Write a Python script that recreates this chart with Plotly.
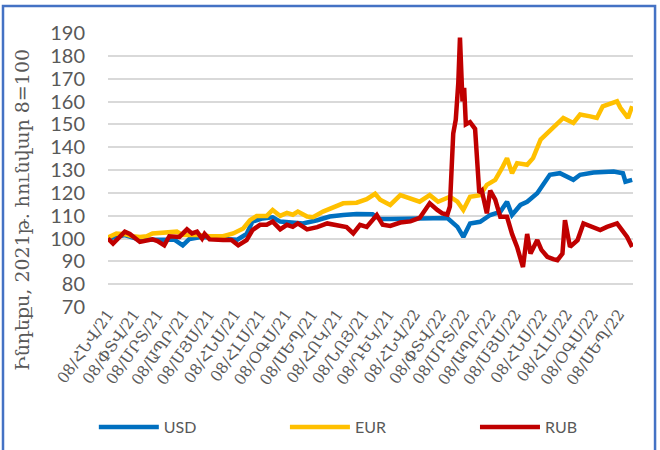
import plotly.graph_objects as go

# ---- data ----
usd_dates = ["2021-01-08","2021-01-14","2021-01-28","2021-02-15","2021-03-05","2021-03-16","2021-03-28",
             "2021-04-07","2021-04-15","2021-04-27","2021-05-09","2021-05-25","2021-06-11","2021-06-22",
             "2021-06-29","2021-07-11","2021-07-23","2021-08-01","2021-08-13","2021-08-28","2021-09-14",
             "2021-09-29","2021-10-15","2021-10-31","2021-11-19","2021-11-28","2021-12-10","2022-01-03",
             "2022-01-26","2022-02-16","2022-02-28","2022-03-07","2022-03-15","2022-03-27","2022-04-08",
             "2022-04-20","2022-04-28","2022-05-04","2022-05-14","2022-05-22","2022-06-03","2022-06-10",
             "2022-06-18","2022-06-30","2022-07-16","2022-07-24","2022-08-09","2022-09-02","2022-09-13",
             "2022-09-16","2022-09-24"]
usd_vals = [100, 100.5, 101.5, 99.5, 99.5, 99.5, 99.5,
            97, 99.8, 100.5, 100.5, 99.8, 99.5, 102,
            107.4, 108.8, 109.3, 107.4, 107, 106.6, 108,
            109.6, 110.3, 110.7, 110.6, 108.5, 108.5, 108.8,
            109.2, 109, 105.1, 100.7, 106.6, 107.3, 110.3,
            111.7, 116.1, 110.3, 114.7, 116.1, 119.8, 123.5,
            127.9, 128.6, 125.7, 127.9, 128.9, 129.3, 128.6,
            124.9, 125.7]

eur_dates = ["2021-01-08","2021-01-18","2021-01-28","2021-02-06","2021-02-15","2021-02-23","2021-03-02",
             "2021-03-14","2021-03-31","2021-04-07","2021-04-24","2021-05-09","2021-05-25","2021-06-06",
             "2021-06-18","2021-06-26","2021-07-04","2021-07-16","2021-07-23","2021-08-01","2021-08-09",
             "2021-08-16","2021-08-22","2021-09-02","2021-09-09","2021-09-21","2021-10-03","2021-10-15",
             "2021-10-31","2021-11-12","2021-11-22","2021-11-28","2021-12-10","2021-12-22","2022-01-14",
             "2022-01-26","2022-02-05","2022-02-19","2022-02-28","2022-03-07","2022-03-15","2022-03-27",
             "2022-04-04","2022-04-14","2022-04-23","2022-04-28","2022-05-04","2022-05-10","2022-05-22",
             "2022-05-29","2022-06-07","2022-06-15","2022-06-22","2022-07-04","2022-07-16","2022-07-24",
             "2022-08-05","2022-08-13","2022-08-20","2022-09-06","2022-09-10","2022-09-19","2022-09-24"]
eur_vals = [100.4, 102.2, 101.9, 101, 100.7, 101, 102.2,
            102.5, 103, 101.5, 101.5, 101, 101, 102.2,
            104.4, 108, 109.9, 109.9, 112.5, 109.9, 111.2,
            110.4, 111.8, 109.6, 109.3, 111.8, 113.7, 115.4,
            115.7, 117.2, 119.6, 117, 114.7, 119, 116.1,
            119, 116.1, 118.3, 116.1, 112.5, 118.3, 119,
            123.5, 125.7, 131.5, 135.2, 128.6, 133, 132.3,
            135.2, 143.3, 146.2, 149.1, 152.8, 150.6, 154.3,
            153.5, 152.8, 157.9, 160.1, 157.2, 152.8, 157.9]

rub_dates = ["2021-01-08","2021-01-14","2021-01-28","2021-02-03","2021-02-15","2021-02-23","2021-03-02",
             "2021-03-08","2021-03-16","2021-03-22","2021-04-03","2021-04-12","2021-04-18","2021-04-24",
             "2021-04-30","2021-05-03","2021-05-09","2021-05-25","2021-06-04","2021-06-12","2021-06-22",
             "2021-06-29","2021-07-08","2021-07-16","2021-07-23","2021-08-01","2021-08-09","2021-08-16",
             "2021-08-22","2021-09-02","2021-09-14","2021-09-26","2021-10-07","2021-10-19","2021-10-27",
             "2021-11-04","2021-11-12","2021-11-24","2021-12-01","2021-12-10","2021-12-22","2022-01-03",
             "2022-01-14","2022-01-23","2022-01-26","2022-02-04","2022-02-10","2022-02-16","2022-02-19",
             "2022-02-23","2022-02-26","2022-03-01","2022-03-03","2022-03-06","2022-03-08","2022-03-10",
             "2022-03-15","2022-03-21","2022-03-23","2022-03-26","2022-03-29","2022-04-04","2022-04-08",
             "2022-04-14","2022-04-20","2022-04-28","2022-05-04","2022-05-10","2022-05-17","2022-05-22",
             "2022-05-26","2022-06-03","2022-06-08","2022-06-15","2022-06-22","2022-06-27","2022-07-03",
             "2022-07-06","2022-07-12","2022-07-21","2022-07-28","2022-08-09","2022-08-17","2022-08-25",
             "2022-09-06","2022-09-18","2022-09-24"]
rub_vals = [100, 97.8, 103, 102, 98.5, 99.3, 99.6,
            98.9, 97, 101, 100.7, 104, 102.2, 103,
            100, 102, 99.6, 99.3, 99.3, 97, 99.3,
            103.7, 106, 106, 107.4, 104, 106, 105.1,
            106.6, 104, 105, 106.6, 106, 105, 102.2,
            106, 105.1, 110.3, 106, 105.5, 107, 107.5,
            109, 114, 115.4, 112.5, 111, 110.5, 114,
            146, 152, 168, 188, 160, 166, 150,
            151, 148, 135, 120, 121, 111, 121,
            117, 109.5, 109.5, 102, 96.3, 87.5, 102,
            93.4, 99.3, 95, 92, 91, 90.5, 93.4,
            108, 96.3, 99.3, 106.6, 105.1, 103.7, 105.1,
            106.6, 100.7, 96.3]

tick_dates = ["2021-01-08","2021-02-08","2021-03-08","2021-04-08","2021-05-08","2021-06-08","2021-07-08",
              "2021-08-08","2021-09-08","2021-10-08","2021-11-08","2021-12-08","2022-01-08","2022-02-08",
              "2022-03-08","2022-04-08","2022-05-08","2022-06-08","2022-07-08","2022-08-08","2022-09-08"]
tick_labels = ["08/ՀՆՎ/21","08/ՓՏՎ/21","08/ՄՐՏ/21","08/ԱՊՐ/21","08/ՄՅՍ/21","08/ՀՆՍ/21","08/ՀԼՍ/21",
               "08/ՕԳՍ/21","08/ՍԵՊ/21","08/ՀՈԿ/21","08/ՆՈՅ/21","08/ԴԵԿ/21","08/ՀՆՎ/22","08/ՓՏՎ/22",
               "08/ՄՐՏ/22","08/ԱՊՐ/22","08/ՄՅՍ/22","08/ՀՆՍ/22","08/ՀԼՍ/22","08/ՕԳՍ/22","08/ՍԵՊ/22"]
y_title = "Ինդեքս, 2021թ. հունվար 8=100"

fig = go.Figure()
fig.add_trace(go.Scatter(x=usd_dates, y=usd_vals, mode="lines", name="USD", legend="legend",
                         line=dict(color="#0070C0", width=4.5)))
fig.add_trace(go.Scatter(x=eur_dates, y=eur_vals, mode="lines", name="EUR", legend="legend2",
                         line=dict(color="#FFC000", width=4.5)))
fig.add_trace(go.Scatter(x=rub_dates, y=rub_vals, mode="lines", name="RUB", legend="legend3",
                         line=dict(color="#C00000", width=4.5)))

leg_font = dict(family="Lato", size=16, color="#595959")
leg_common = dict(orientation="h", xanchor="left", y=-0.438, yanchor="middle",
                  itemwidth=60, font=leg_font, bgcolor="rgba(0,0,0,0)")

fig.update_layout(
    width=660, height=450,
    margin=dict(l=108, r=27, t=33, b=143, autoexpand=False),
    paper_bgcolor="white", plot_bgcolor="white",
    showlegend=True,
    legend=dict(x=-0.027, **leg_common),
    legend2=dict(x=0.337, **leg_common),
    legend3=dict(x=0.699, **leg_common),
    xaxis=dict(type="date", range=["2021-01-08", "2022-09-25"],
               tickmode="array", tickvals=tick_dates, ticktext=tick_labels,
               tickangle=-55, showgrid=False, zeroline=False, showline=False, ticks="",
               ticklabelstandoff=-6,
               tickfont=dict(family="DejaVu Serif", size=15.5, color="#595959")),
    yaxis=dict(range=[70, 190], dtick=10, showgrid=True, gridcolor="#D9D9D9", gridwidth=1.5,
               zeroline=False, showline=False, ticks="", ticklabelstandoff=22,
               tickfont=dict(family="Lato", size=20, color="#595959")),
    shapes=[dict(type="rect", xref="paper", yref="paper", x0=-0.2, x1=1.042, y0=-0.6, y1=1.0985,
                 line=dict(color="#4472C4", width=2.5), fillcolor="rgba(0,0,0,0)", layer="above")],
    annotations=[dict(text=y_title, xref="paper", yref="paper", x=-0.164, y=0.354,
                      textangle=-90, showarrow=False, xanchor="center", yanchor="middle",
                      font=dict(family="DejaVu Serif", size=19, color="#595959"))],
)

fig.write_html("out.html", config={"displayModeBar": False},
               post_script="document.body.style.margin='0';")
